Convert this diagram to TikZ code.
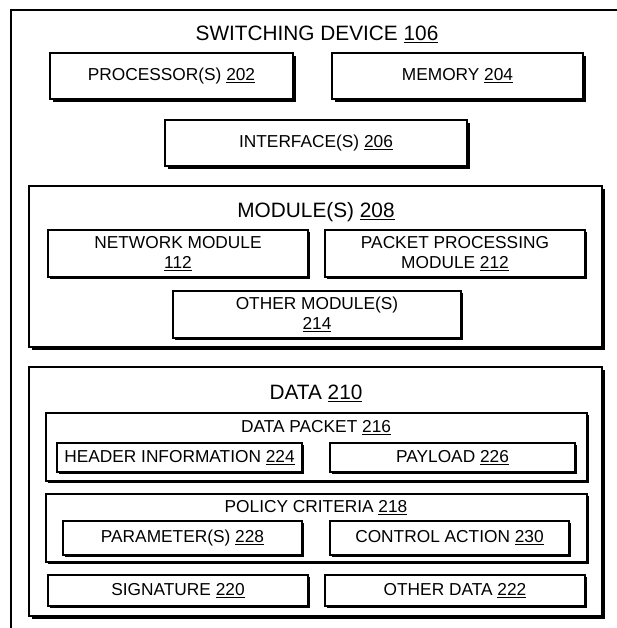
\documentclass[tikz,border=0pt]{standalone}
\usepackage{fontspec}
\setmainfont{Liberation Sans}
\usetikzlibrary{shadows}
\newcommand{\ulnum}[1]{\underline{#1}}
\tikzset{
  x=1pt, y=-1pt,
  bigshadow/.style={drop shadow={shadow xshift=3pt, shadow yshift=-3pt, fill=black, opacity=1}},
  smallshadow/.style={drop shadow={shadow xshift=1.5pt, shadow yshift=-1.5pt, fill=black, opacity=1}},
  basebox/.style={draw=black, line width=1.3pt, fill=white, inner sep=0pt, align=center,
    font=\fontsize{17.3}{20}\selectfont, text=black},
  bigbox/.style={basebox, bigshadow},
  smallbox/.style={basebox, smallshadow},
  titletext/.style={inner sep=0pt, font=\fontsize{20.8}{24}\selectfont, text=black},
  subtitle/.style={inner sep=0pt, font=\fontsize{17.3}{20}\selectfont, text=black},
}
\begin{document}
\begin{tikzpicture}
\useasboundingbox (0,0) rectangle (617,628);
% outer switching device frame (only top and left edges visible)
\coordinate (frameBL) at (11,628);
\coordinate (frameTL) at (11,10);
\coordinate (frameTR) at (617,10);
\draw[line width=1.8pt] (frameBL) -- (frameTL) -- (frameTR);
\node[titletext] (swtitle) at (317,34) {SWITCHING DEVICE \ulnum{106}};

\node[bigbox, minimum width=243pt, minimum height=46pt] (proc) at (171.5,76) {PROCESSOR(S) \ulnum{202}};
\node[bigbox, minimum width=251pt, minimum height=46pt] (mem) at (457.5,76) {MEMORY \ulnum{204}};
\node[bigbox, minimum width=302pt, minimum height=46pt] (intf) at (316,143) {INTERFACE(S) \ulnum{206}};

% modules
\node[bigbox, minimum width=573pt, minimum height=161pt] (mods) at (315.5,266.5) {};
\node[titletext] (modtitle) at (316,212) {MODULE(S) \ulnum{208}};
\node[smallbox, minimum width=260pt, minimum height=47pt] (net) at (178,253.5) {NETWORK MODULE\\\ulnum{112}};
\node[smallbox, minimum width=260pt, minimum height=47pt] (pp) at (455,253.5) {PACKET PROCESSING\\MODULE \ulnum{212}};
\node[smallbox, minimum width=288pt, minimum height=47pt] (othmod) at (317,314.5) {OTHER MODULE(S)\\\ulnum{214}};

% data
\node[bigbox, minimum width=573pt, minimum height=249pt] (data) at (315.5,491.5) {};
\node[titletext] (datatitle) at (316,393) {DATA \ulnum{210}};

\node[smallbox, minimum width=541pt, minimum height=68pt] (dp) at (316.5,447) {};
\node[subtitle] (dptitle) at (316,428) {DATA PACKET \ulnum{216}};
\node[smallbox, minimum width=245pt, minimum height=29pt] (hdr) at (179.5,457.5) {HEADER INFORMATION \ulnum{224}};
\node[smallbox, minimum width=245pt, minimum height=29pt] (pay) at (452.5,457.5) {PAYLOAD \ulnum{226}};

\node[smallbox, minimum width=541pt, minimum height=68pt] (pol) at (316.5,528) {};
\node[subtitle] (poltitle) at (316,508) {POLICY CRITERIA \ulnum{218}};
\node[smallbox, minimum width=239pt, minimum height=34pt] (par) at (182.5,538) {PARAMETER(S) \ulnum{228}};
\node[smallbox, minimum width=239pt, minimum height=34pt] (ctl) at (449.5,538) {CONTROL ACTION \ulnum{230}};

\node[smallbox, minimum width=260pt, minimum height=31pt] (sig) at (178,590.5) {SIGNATURE \ulnum{220}};
\node[smallbox, minimum width=260pt, minimum height=31pt] (othdata) at (455,590.5) {OTHER DATA \ulnum{222}};
\end{tikzpicture}
\end{document}
